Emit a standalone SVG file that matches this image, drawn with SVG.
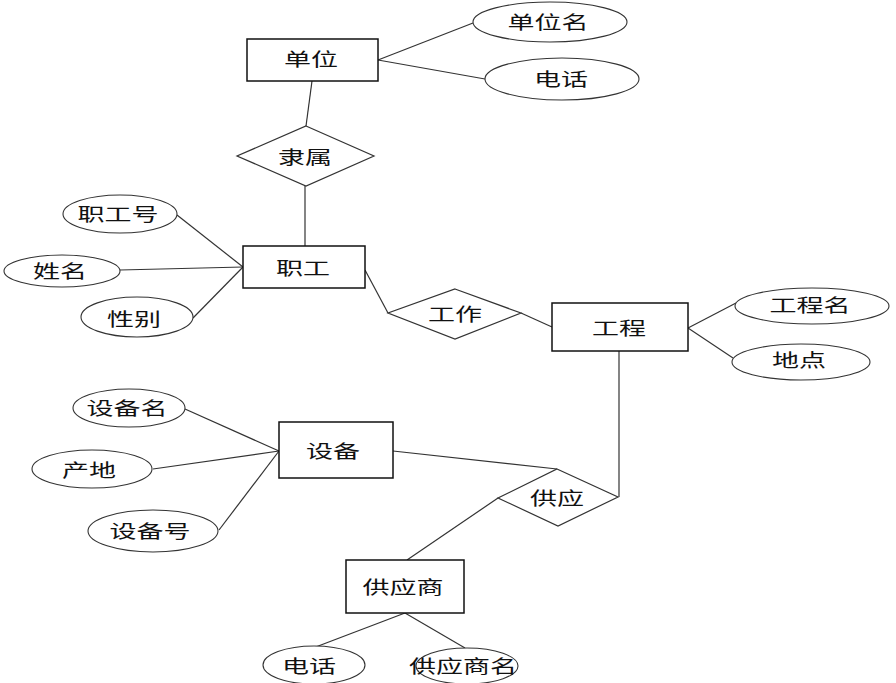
<svg xmlns="http://www.w3.org/2000/svg" width="896" height="683" viewBox="0 0 896 683">
<style>
.bg{fill:#fff}
.conn line{stroke:#333;stroke-width:1.2}
.ent{fill:#fff;stroke:#111;stroke-width:1.5}
.attr{fill:#fff;stroke:#333;stroke-width:1.1}
.rel{fill:#fff;stroke:#333;stroke-width:1.2}
text{font-family:"Noto Sans CJK SC","Noto Sans",sans-serif;font-size:18px;fill:#111;text-anchor:middle;dominant-baseline:central}
</style>
<rect class="bg" x="0" y="0" width="896" height="683"/>
<g id="connectors" class="conn">
<line x1="378" y1="60" x2="473" y2="23"/>
<line x1="378" y1="60" x2="485" y2="79"/>
<line x1="312" y1="81" x2="306" y2="126"/>
<line x1="305" y1="186" x2="305" y2="246"/>
<line x1="177" y1="215" x2="243" y2="267"/>
<line x1="120" y1="270" x2="243" y2="267"/>
<line x1="193" y1="318" x2="243" y2="267"/>
<line x1="365" y1="270" x2="388" y2="313"/>
<line x1="521" y1="313" x2="552" y2="327"/>
<line x1="688" y1="328" x2="736" y2="303"/>
<line x1="688" y1="328" x2="733" y2="358"/>
<line x1="619" y1="351" x2="619" y2="497"/>
<line x1="185" y1="409" x2="279" y2="451"/>
<line x1="153" y1="469" x2="279" y2="451"/>
<line x1="219" y1="530" x2="279" y2="451"/>
<line x1="393" y1="451" x2="557" y2="469"/>
<line x1="498" y1="498" x2="407" y2="560"/>
<line x1="405" y1="613" x2="313" y2="648"/>
<line x1="405" y1="613" x2="465" y2="648"/>
</g>
<g id="danwei"><rect class="ent" x="247" y="39" width="131" height="42"/><text x="311" y="58" textLength="54" lengthAdjust="spacingAndGlyphs">单位</text></g>
<g id="danweiming"><ellipse class="attr" cx="550" cy="22" rx="77" ry="20"/><text x="548" y="21" textLength="81" lengthAdjust="spacingAndGlyphs">单位名</text></g>
<g id="dianhua1"><ellipse class="attr" cx="562" cy="79" rx="77" ry="21"/><text x="561" y="78" textLength="54" lengthAdjust="spacingAndGlyphs">电话</text></g>
<g id="lishu"><polygon class="rel" points="306,126 374,156 306,186 237,156"/><text x="305" y="156" textLength="54" lengthAdjust="spacingAndGlyphs">隶属</text></g>
<g id="zhigong"><rect class="ent" x="243" y="246" width="122" height="42"/><text x="303" y="267" textLength="54" lengthAdjust="spacingAndGlyphs">职工</text></g>
<g id="zhigonghao"><ellipse class="attr" cx="120" cy="214" rx="57" ry="19"/><text x="118" y="213" textLength="81" lengthAdjust="spacingAndGlyphs">职工号</text></g>
<g id="xingming"><ellipse class="attr" cx="62" cy="271" rx="58" ry="16"/><text x="60" y="270" textLength="54" lengthAdjust="spacingAndGlyphs">姓名</text></g>
<g id="xingbie"><ellipse class="attr" cx="137" cy="317" rx="56" ry="20"/><text x="134" y="318" textLength="54" lengthAdjust="spacingAndGlyphs">性别</text></g>
<g id="gongzuo"><polygon class="rel" points="455,289 521,313 455,339 388,313"/><text x="455" y="313" textLength="54" lengthAdjust="spacingAndGlyphs">工作</text></g>
<g id="gongcheng"><rect class="ent" x="552" y="303" width="136" height="48"/><text x="619" y="327" textLength="54" lengthAdjust="spacingAndGlyphs">工程</text></g>
<g id="gongchengming"><ellipse class="attr" cx="812" cy="306" rx="77" ry="18"/><text x="810" y="304" textLength="81" lengthAdjust="spacingAndGlyphs">工程名</text></g>
<g id="didian"><ellipse class="attr" cx="801" cy="362" rx="69" ry="18"/><text x="799" y="359" textLength="54" lengthAdjust="spacingAndGlyphs">地点</text></g>
<g id="shebei"><rect class="ent" x="279" y="422" width="114" height="56"/><text x="333" y="450" textLength="54" lengthAdjust="spacingAndGlyphs">设备</text></g>
<g id="shebeiming"><ellipse class="attr" cx="129" cy="408" rx="56" ry="19"/><text x="127" y="407" textLength="81" lengthAdjust="spacingAndGlyphs">设备名</text></g>
<g id="chandi"><ellipse class="attr" cx="92" cy="469" rx="60" ry="19"/><text x="89" y="469" textLength="54" lengthAdjust="spacingAndGlyphs">产地</text></g>
<g id="shebeihao"><ellipse class="attr" cx="153" cy="531" rx="65" ry="21"/><text x="150" y="530" textLength="81" lengthAdjust="spacingAndGlyphs">设备号</text></g>
<g id="gongying"><polygon class="rel" points="557,469 618,497 558,526 498,498"/><text x="557" y="497" textLength="54" lengthAdjust="spacingAndGlyphs">供应</text></g>
<g id="gongyingshang"><rect class="ent" x="346" y="560" width="118" height="53"/><text x="403" y="586" textLength="81" lengthAdjust="spacingAndGlyphs">供应商</text></g>
<g id="dianhua2"><ellipse class="attr" cx="314" cy="665" rx="51" ry="19"/><text x="309" y="665" textLength="54" lengthAdjust="spacingAndGlyphs">电话</text></g>
<g id="gongyingshangming"><ellipse class="attr" cx="467" cy="666" rx="51" ry="18"/><text x="463" y="665" textLength="108" lengthAdjust="spacingAndGlyphs">供应商名</text></g>
</svg>
